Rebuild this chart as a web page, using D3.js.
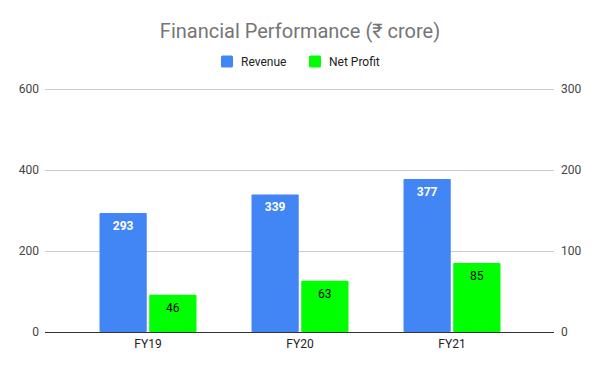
<!DOCTYPE html>
<html>
<head>
<meta charset="utf-8">
<script src="https://cdn.jsdelivr.net/npm/d3@7"></script>
<style>
  body { margin: 0; background: #fff; }
  text { font-family: Roboto, "Noto Sans", sans-serif; }
</style>
</head>
<body>
<div id="viz"></div>
<script>
// chart data
var years = ["FY19", "FY20", "FY21"];
var revenue = [293, 339, 377];
var netProfit = [46, 63, 85];
var leftTicks = [0, 200, 400, 600];
var rightTicks = [0, 100, 200, 300];

var W = 600, H = 371;
var svg = d3.select("#viz").append("svg")
    .attr("width", W).attr("height", H);

var plotL = 45, plotR = 554, plotT = 88.5, plotB = 332;

var yLeft = d3.scaleLinear().domain([0, 600]).range([plotB, plotT]);
var yRight = d3.scaleLinear().domain([0, 300]).range([plotB, plotT]);
var x = d3.scalePoint().domain(years).range([72, 528]).padding(0.5);
var inner = d3.scaleBand().domain(["rev", "np"]).range([-48.5, 48.5]).paddingInner(0.05);

// title
svg.append("text")
    .attr("x", 300).attr("y", 37.5)
    .attr("text-anchor", "middle")
    .style("font-size", "20px")
    .style("fill", "#757575")
    .text("Financial Performance (\u20B9 crore)");

// legend
var legend = [["Revenue", "#4285F4", 221], ["Net Profit", "#00FF00", 309]];
legend.forEach(function (d) {
    svg.append("rect").attr("x", d[2]).attr("y", 55.5)
        .attr("width", 12).attr("height", 12).attr("rx", 1.5).style("fill", d[1]);
    svg.append("text").attr("x", d[2] + 20).attr("y", 65.5)
        .style("font-size", "12px").style("fill", "#222").text(d[0]);
});

// gridlines
svg.append("g").selectAll("line").data(leftTicks.slice(1)).enter()
    .append("line")
    .attr("x1", plotL).attr("x2", plotR)
    .attr("y1", function (d) { return Math.round(yLeft(d)) + 0.5; })
    .attr("y2", function (d) { return Math.round(yLeft(d)) + 0.5; })
    .style("stroke", "#cccccc");

// left axis labels
var la = svg.append("g").attr("transform", "translate(" + plotL + ",0)")
    .call(d3.axisLeft(yLeft).tickValues(leftTicks).tickSize(0).tickPadding(6));
la.select(".domain").remove();
la.selectAll("text").style("font-size", "12px").style("fill", "#444")
    .style("font-family", "Roboto, sans-serif");

// right axis labels
var ra = svg.append("g").attr("transform", "translate(" + plotR + ",0)")
    .call(d3.axisRight(yRight).tickValues(rightTicks).tickSize(0).tickPadding(7));
ra.select(".domain").remove();
ra.selectAll("text").style("font-size", "12px").style("fill", "#444")
    .style("font-family", "Roboto, sans-serif");

// bars
var groups = svg.append("g").selectAll("g").data(years).enter()
    .append("g").attr("transform", function (d) { return "translate(" + x(d) + ",0)"; });

groups.append("rect")
    .attr("x", inner("rev")).attr("width", inner.bandwidth())
    .attr("y", function (d, i) { return yLeft(revenue[i]); })
    .attr("height", function (d, i) { return plotB - yLeft(revenue[i]); })
    .attr("rx", 1).style("fill", "#4285F4");

groups.append("rect")
    .attr("x", inner("np")).attr("width", inner.bandwidth())
    .attr("y", function (d, i) { return yRight(netProfit[i]); })
    .attr("height", function (d, i) { return plotB - yRight(netProfit[i]); })
    .attr("rx", 1).style("fill", "#00FF00");

groups.append("text")
    .attr("x", inner("rev") + inner.bandwidth() / 2)
    .attr("y", function (d, i) { return yLeft(revenue[i]) + 17; })
    .attr("text-anchor", "middle")
    .style("font-size", "12px").style("font-weight", "bold").style("fill", "#fff")
    .text(function (d, i) { return revenue[i]; });

groups.append("text")
    .attr("x", inner("np") + inner.bandwidth() / 2)
    .attr("y", function (d, i) { return yRight(netProfit[i]) + 17; })
    .attr("text-anchor", "middle")
    .style("font-size", "12px").style("fill", "#000")
    .text(function (d, i) { return netProfit[i]; });

// baseline
svg.append("line").attr("x1", plotL).attr("x2", plotR)
    .attr("y1", plotB + 0.5).attr("y2", plotB + 0.5)
    .style("stroke", "#333");

// x labels
svg.append("g").selectAll("text").data(years).enter()
    .append("text")
    .attr("x", function (d) { return x(d); })
    .attr("y", 348)
    .attr("text-anchor", "middle")
    .style("font-size", "12px").style("fill", "#222")
    .text(function (d) { return d; });
</script>
</body>
</html>
